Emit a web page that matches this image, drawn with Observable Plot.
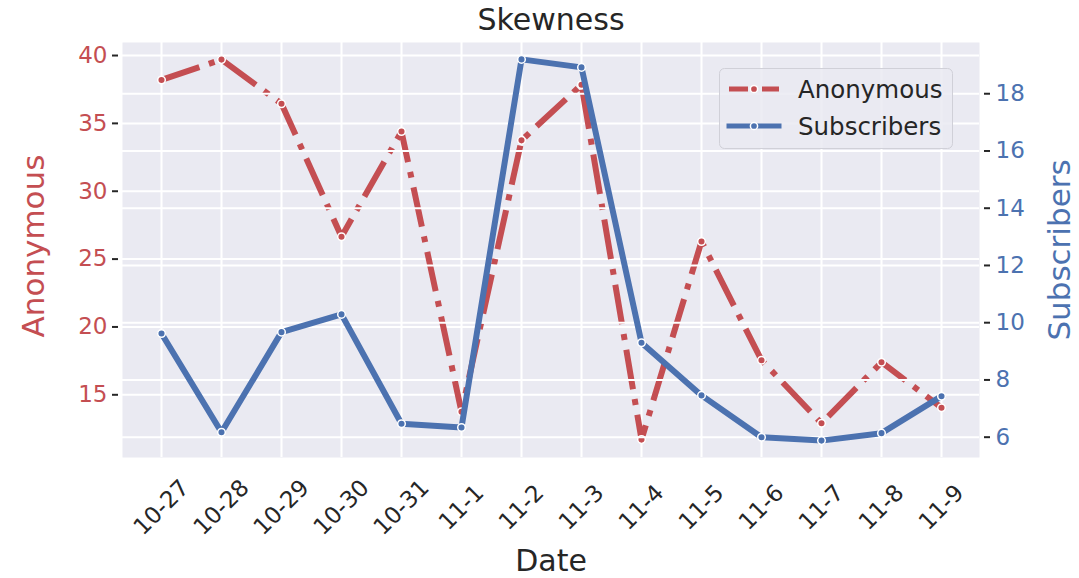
<!DOCTYPE html>
<html>
<head>
<meta charset="utf-8">
<script src="https://cdn.jsdelivr.net/npm/d3@7"></script>
<script src="https://cdn.jsdelivr.net/npm/@observablehq/plot@0.6"></script>
<style>
  body { margin: 0; background: #ffffff; }
  #chart { position: relative; width: 1079px; height: 578px; font-family: "DejaVu Sans", sans-serif; }
  #chart > svg { position: absolute; left: 0; top: 0; }
</style>
</head>
<body>
<div id="chart"></div>
<script>
// Daily skewness for two audience groups
const dates = ["10-27", "10-28", "10-29", "10-30", "10-31", "11-1", "11-2", "11-3", "11-4", "11-5", "11-6", "11-7", "11-8", "11-9"];
const anonymous = [38.2, 39.7, 36.45, 26.65, 34.4, 13.75, 33.75, 37.85, 11.7, 26.3, 17.55, 12.9, 17.4, 14.05];
const subscribers = [9.62, 6.17, 9.67, 10.29, 6.47, 6.34, 19.2, 18.92, 9.3, 7.46, 6.0, 5.88, 6.14, 7.43];
const anonymousTicks = [15, 20, 25, 30, 35, 40];
const subscriberTicks = [6, 8, 10, 12, 14, 16, 18];
const seriesNames = ["Anonymous", "Subscribers"];

const red = "#C44E52";
const blue = "#4C72B0";
const panel = "#EAEAF2";
const ink = "#262626";

const rows = dates.map((date, i) => ({date, anonymous: anonymous[i], subscribers: subscribers[i]}));

// Shared frame so the two y scales sit on the same plotting area (twin axes)
const common = {
  width: 1079,
  height: 578,
  marginTop: 42,
  marginBottom: 121,
  marginLeft: 118,
  marginRight: 96,
  x: {type: "point", domain: dates, padding: 0.69, axis: null},
  style: {fontFamily: "DejaVu Sans, sans-serif", background: "transparent", overflow: "visible"}
};

const left = Plot.plot({
  ...common,
  y: {domain: [10.38, 40.96]},
  marks: [
    Plot.frame({fill: panel, stroke: "none", insetLeft: 4, insetRight: 4}),
    Plot.ruleX(dates, {x: d => d, stroke: "white", strokeWidth: 2}),
    Plot.ruleY(anonymousTicks, {y: d => d, stroke: "white", strokeWidth: 2, insetLeft: 4, insetRight: 4}),
    Plot.line(rows, {x: "date", y: "anonymous", stroke: red, strokeWidth: 6,
      strokeDasharray: "40,10,6,10", strokeLinecap: "butt", strokeLinejoin: "round"}),
    Plot.dot(rows, {x: "date", y: "anonymous", r: 3.8, fill: red, stroke: "white", strokeWidth: 1.5}),
    Plot.axisY({anchor: "left", ticks: anonymousTicks, tickSize: 6, tickPadding: 5,
      stroke: ink, strokeWidth: 2, fill: red, fontSize: 23, label: null}),
    Plot.text(dates, {x: d => d, frameAnchor: "bottom", dy: 50, rotate: -45,
      textAnchor: "middle", lineAnchor: "middle", fontSize: 23, fill: ink}),
    Plot.text(["Skewness"], {frameAnchor: "top", dy: -22, textAnchor: "middle", lineAnchor: "middle", fontSize: 30, fill: ink}),
    Plot.text(["Date"], {frameAnchor: "bottom", dy: 104, textAnchor: "middle", lineAnchor: "middle", fontSize: 30, fill: ink}),
    Plot.text([seriesNames[0]], {frameAnchor: "left", dx: -84, dy: -4, rotate: -90,
      textAnchor: "middle", lineAnchor: "middle", fontSize: 31, fill: red})
  ]
});

const right = Plot.plot({
  ...common,
  y: {domain: [5.29, 19.79]},
  marks: [
    Plot.ruleY(subscriberTicks, {y: d => d, stroke: "white", strokeWidth: 2, insetLeft: 4, insetRight: 4}),
    Plot.line(rows, {x: "date", y: "subscribers", stroke: blue, strokeWidth: 6,
      strokeLinecap: "square", strokeLinejoin: "round"}),
    Plot.dot(rows, {x: "date", y: "subscribers", r: 3.8, fill: blue, stroke: "white", strokeWidth: 1.5}),
    Plot.axisY({anchor: "right", ticks: subscriberTicks, tickSize: 6, tickPadding: 6,
      stroke: ink, strokeWidth: 2, fill: blue, fontSize: 23, label: null}),
    Plot.text([seriesNames[1]], {frameAnchor: "right", dx: 77, rotate: -90,
      textAnchor: "middle", lineAnchor: "middle", fontSize: 31, fill: blue})
  ]
});

const chart = document.getElementById("chart");
chart.append(left, right);

// Legend box with line-and-marker swatches
const ns = "http://www.w3.org/2000/svg";
const legend = document.createElementNS(ns, "svg");
legend.setAttribute("width", 1079);
legend.setAttribute("height", 578);
legend.style.position = "absolute";
legend.style.left = "0";
legend.style.top = "0";
legend.style.pointerEvents = "none";
const swatches = [
  {name: seriesNames[0], color: red, dash: "19,5,4,5", cap: "butt", cy: 89},
  {name: seriesNames[1], color: blue, dash: null, cap: "square", cy: 126}
];
let inner = `<rect x="719.5" y="68.5" width="233" height="80" rx="5" fill="${panel}" fill-opacity="0.85" stroke="#d0d0d8" stroke-width="1"/>`;
for (const s of swatches) {
  inner += `<line x1="729" x2="779" y1="${s.cy}" y2="${s.cy}" stroke="${s.color}" stroke-width="5"` +
    (s.dash ? ` stroke-dasharray="${s.dash}"` : "") + ` stroke-linecap="${s.cap}"/>`;
  inner += `<circle cx="754" cy="${s.cy}" r="3.6" fill="${s.color}" stroke="white" stroke-width="1.5"/>`;
  inner += `<text x="798" y="${s.cy + 8.8}" font-family="DejaVu Sans, sans-serif" font-size="24.5" fill="${ink}">${s.name}</text>`;
}
legend.innerHTML = inner;
chart.append(legend);
</script>
</body>
</html>
